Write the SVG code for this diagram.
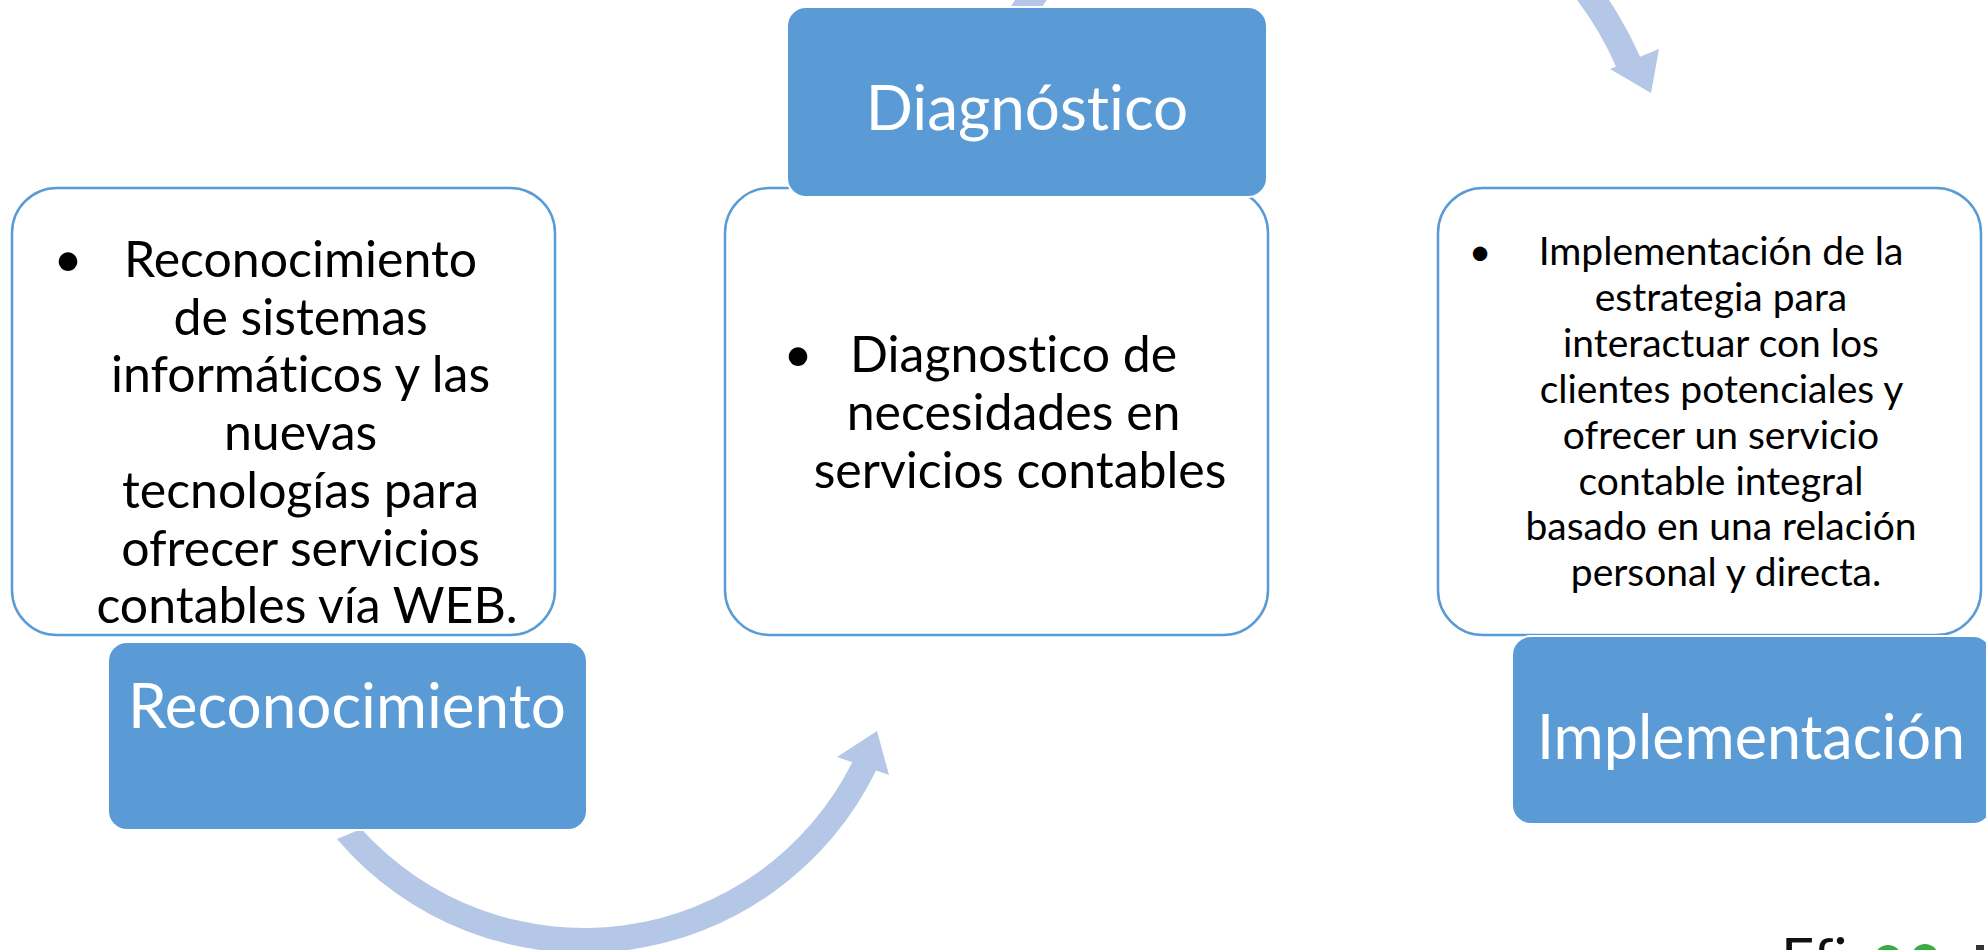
<svg xmlns="http://www.w3.org/2000/svg" width="1986" height="950" viewBox="0 0 1986 950">
<style>
text{font-variant-ligatures:none;font-feature-settings:"liga" 0,"clig" 0}
.card{fill:#ffffff;stroke:#5B9BD5;stroke-width:2.5}
.title{fill:#5B9BD5;stroke:#ffffff;stroke-width:2}
.arc{fill:#B4C7E7}
.tt{font-family:Lato,"Liberation Sans",sans-serif;fill:#ffffff;text-anchor:middle}
.bt{font-family:Lato,"Liberation Sans",sans-serif;fill:#000000;text-anchor:middle}
</style>
<rect width="1986" height="950" fill="#ffffff"/>
<g id="connectors">
<path class="arc" d="M336.9,839.1 A325,325 0 0 0 876.1,770.5 L889,775 L877,731 L837,757 L852.3,762.3 A300,300 0 0 1 361.4,829 Z"/>
<path class="arc" d="M1008.4,10.3 A358,358 0 0 1 1640.1,56.7 L1659,49 L1651,93 L1610,69 L1616,66.5 A332,332 0 0 0 1030.4,24.1 Z"/>
</g>
<g id="node-reconocimiento">
<rect class="card" x="12" y="188" width="543" height="447" rx="45"/>
<text class="bt" x="68" y="277" font-size="50">•</text>
<text class="bt" font-size="50">
<tspan x="307" y="277">Reconocimiento</tspan>
<tspan x="307" y="334.7">de sistemas</tspan>
<tspan x="307" y="392.4">informáticos y las</tspan>
<tspan x="307" y="450.1">nuevas</tspan>
<tspan x="307" y="507.8">tecnologías para</tspan>
<tspan x="307" y="565.5">ofrecer servicios</tspan>
<tspan x="307" y="623.2">contables vía WEB.</tspan>
</text>
<rect class="title" x="108" y="642" width="479" height="188" rx="19"/>
<text class="tt" x="347" y="728" font-size="62">Reconocimiento</text>
</g>
<g id="node-diagnostico">
<rect class="card" x="725" y="188" width="543" height="447" rx="45"/>
<text class="bt" x="798" y="372" font-size="50">•</text>
<text class="bt" font-size="50">
<tspan x="1020" y="372">Diagnostico de</tspan>
<tspan x="1020" y="430">necesidades en</tspan>
<tspan x="1020" y="488">servicios contables</tspan>
</text>
<rect class="title" x="787" y="7" width="480" height="190" rx="19"/>
<text class="tt" x="1027" y="130" font-size="62">Diagnóstico</text>
</g>
<g id="node-implementacion">
<rect class="card" x="1438" y="188" width="543" height="447" rx="45"/>
<text class="bt" x="1480" y="265" font-size="39">•</text>
<text class="bt" font-size="39">
<tspan x="1726" y="265">Implementación de la</tspan>
<tspan x="1726" y="310.9">estrategia para</tspan>
<tspan x="1726" y="356.8">interactuar con los</tspan>
<tspan x="1726" y="402.7">clientes potenciales y</tspan>
<tspan x="1726" y="448.6">ofrecer un servicio</tspan>
<tspan x="1726" y="494.5">contable integral</tspan>
<tspan x="1726" y="540.4">basado en una relación</tspan>
<tspan x="1726" y="586.3">personal y directa.</tspan>
</text>
<rect class="title" x="1512" y="636" width="480" height="188" rx="19"/>
<text class="tt" x="1751" y="759" font-size="61">Implementación</text>
</g>
<g id="logo">
<text x="1781" y="980" font-family="Lato,'Liberation Sans',sans-serif" font-size="58" fill="#111111">Efi</text>
<ellipse cx="1888" cy="957" rx="13" ry="12" fill="#3DAA48"/>
<ellipse cx="1925" cy="956" rx="13" ry="12" fill="#3DAA48"/>
<rect x="1976" y="945" width="8" height="6" fill="#333333"/>
</g>
</svg>
